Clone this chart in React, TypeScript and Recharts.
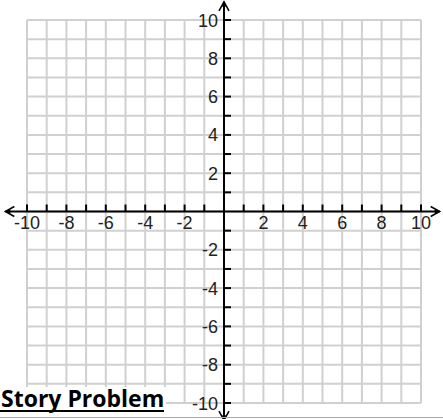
import React from "react";
import {
  ScatterChart,
  Scatter,
  XAxis,
  YAxis,
  ReferenceLine,
  ReferenceDot,
} from "recharts";

// grid runs every unit from -10 to 10 on both axes
const GRID_VALUES = [-10, -9, -8, -7, -6, -5, -4, -3, -2, -1, 0, 1, 2, 3, 4, 5, 6, 7, 8, 9, 10];
const TICK_VALUES = [-10, -9, -8, -7, -6, -5, -4, -3, -2, -1, 1, 2, 3, 4, 5, 6, 7, 8, 9, 10];
const LABEL_VALUES = [-10, -8, -6, -4, -2, 2, 4, 6, 8, 10];
// where the axis arrows end, a little past the grid
const X_AXIS_ENDS = [-11.1, 10.95];
const Y_AXIS_ENDS = [-10.9, 10.95];

const LABEL_FONT = "'Liberation Sans', Arial, sans-serif";

const xTickData = TICK_VALUES.map((v) => ({
  x: v,
  y: 0,
  label: LABEL_VALUES.includes(v) ? String(v) : "",
}));
const yTickData = TICK_VALUES.map((v) => ({
  x: 0,
  y: v,
  label: LABEL_VALUES.includes(v) ? String(v) : "",
}));

const XTick = (p: any) => (
  <g>
    <line x1={p.cx} x2={p.cx} y1={p.cy - 7} y2={p.cy} stroke="#000" strokeWidth={2} />
    {p.payload.label && (
      <text
        x={p.cx}
        y={p.cy + 17}
        textAnchor="middle"
        fontSize={18}
        fontFamily={LABEL_FONT}
        fill="#222"
      >
        {p.payload.label}
      </text>
    )}
  </g>
);

const YTick = (p: any) => (
  <g>
    <line x1={p.cx} x2={p.cx + 7} y1={p.cy} y2={p.cy} stroke="#000" strokeWidth={2} />
    {p.payload.label && (
      <text
        x={p.cx - 6}
        y={p.cy + 6.5}
        textAnchor="end"
        fontSize={18}
        fontFamily={LABEL_FONT}
        fill="#222"
      >
        {p.payload.label}
      </text>
    )}
  </g>
);

const arrow = (dx: number, dy: number) => (p: any) => {
  const { cx, cy } = p;
  // arms of the open arrowhead, plus a small solid tip
  const px = -dy;
  const py = dx;
  return (
    <g>
      <path
        d={`M${cx - dx * 9 + px * 5},${cy - dy * 9 + py * 5} L${cx},${cy} L${cx - dx * 9 - px * 5},${cy - dy * 9 - py * 5}`}
        stroke="#000"
        strokeWidth={1.5}
        fill="none"
      />
      <path
        d={`M${cx},${cy} L${cx - dx * 5 + px * 2},${cy - dy * 5 + py * 2} L${cx - dx * 5 - px * 2},${cy - dy * 5 - py * 2} Z`}
        fill="#000"
      />
    </g>
  );
};

export default function App() {
  return (
    <div style={{ position: "absolute", left: 0, top: 0, width: 443, height: 419, background: "#fff" }}>
      <ScatterChart width={443} height={419} margin={{ top: 20, right: 22, bottom: 16, left: 27 }}>
        <XAxis
          type="number"
          dataKey="x"
          domain={[-10, 10]}
          ticks={GRID_VALUES}
          axisLine={false}
          tickLine={false}
          tick={false}
          height={0}
        />
        <YAxis
          type="number"
          dataKey="y"
          domain={[-10, 10]}
          ticks={GRID_VALUES}
          axisLine={false}
          tickLine={false}
          tick={false}
          width={0}
        />
        {GRID_VALUES.map((v) => (
          <ReferenceLine key={`gx${v}`} x={v} stroke="#d0d0d0" strokeWidth={2} />
        ))}
        {GRID_VALUES.map((v) => (
          <ReferenceLine key={`gy${v}`} y={v} stroke="#d0d0d0" strokeWidth={2} />
        ))}
        <ReferenceLine
          segment={[
            { x: X_AXIS_ENDS[0], y: 0 },
            { x: X_AXIS_ENDS[1], y: 0 },
          ]}
          stroke="#000"
          strokeWidth={2}
          ifOverflow="visible"
        />
        <ReferenceLine
          segment={[
            { x: 0, y: Y_AXIS_ENDS[0] },
            { x: 0, y: Y_AXIS_ENDS[1] },
          ]}
          stroke="#000"
          strokeWidth={2}
          ifOverflow="visible"
        />
        <Scatter data={xTickData} shape={XTick} isAnimationActive={false} />
        <Scatter data={yTickData} shape={YTick} isAnimationActive={false} />
        <ReferenceDot x={X_AXIS_ENDS[0]} y={0} r={0} ifOverflow="visible" shape={arrow(-1, 0)} />
        <ReferenceDot x={X_AXIS_ENDS[1]} y={0} r={0} ifOverflow="visible" shape={arrow(1, 0)} />
        <ReferenceDot x={0} y={Y_AXIS_ENDS[1]} r={0} ifOverflow="visible" shape={arrow(0, -1)} />
        <ReferenceDot x={0} y={Y_AXIS_ENDS[0]} r={0} ifOverflow="visible" shape={arrow(0, 1)} />
      </ScatterChart>
      <svg width={443} height={419} style={{ position: "absolute", left: 0, top: 0, pointerEvents: "none" }}>
        <rect x={0} y={387} width={166} height={30} fill="#fff" />
        <text
          x={1}
          y={407}
          fontSize={23}
          fontWeight={700}
          fontFamily="'Open Sans', sans-serif"
          fill="#000"
        >
          Story Problem
        </text>
        <line x1={0} x2={164} y1={411} y2={411} stroke="#000" strokeWidth={2} />
        <line x1={0} x2={443} y1={417.5} y2={417.5} stroke="#a8a8a8" strokeWidth={1} />
      </svg>
    </div>
  );
}
